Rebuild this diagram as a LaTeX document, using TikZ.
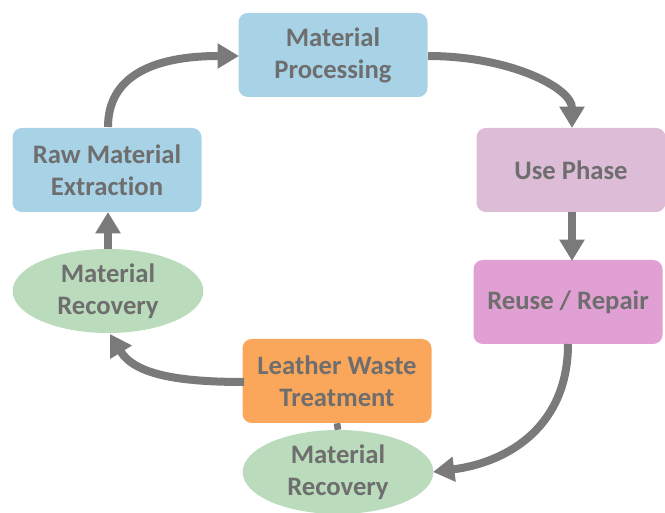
\documentclass[tikz,border=0pt]{standalone}
\usepackage{fontspec}
\setmainfont{Carlito}[Ligatures=CommonOff]
\usetikzlibrary{arrows.meta,shapes.geometric}
\definecolor{boxblue}{HTML}{A8D3E7}
\definecolor{usepink}{HTML}{DCBCD7}
\definecolor{reusepink}{HTML}{E0A0D3}
\definecolor{orangebox}{HTML}{FBA75B}
\definecolor{greenell}{HTML}{BADCBC}
\definecolor{txtgray}{HTML}{6E6E6E}
\definecolor{arrgray}{HTML}{7A7A7A}
\tikzset{
  stagebox/.style={rectangle, rounded corners=7pt, minimum width=141.75pt, minimum height=63pt, align=center, text=txtgray, font=\fontsize{20}{24}\selectfont\bfseries, inner sep=0pt},
  recov/.style={ellipse, fill=greenell, minimum width=143pt, minimum height=63pt, align=center, text=txtgray, font=\fontsize{20}{24}\selectfont\bfseries, inner sep=0pt},
  flow/.style={draw=arrgray, line width=6pt, -{Triangle[width=18pt,length=16pt]}},
  link/.style={draw=arrgray, line width=5pt}
}
\begin{document}
\begin{tikzpicture}[x=0.75pt,y=-0.75pt]
\useasboundingbox (0,0) rectangle (665,513);
\node[stagebox, fill=boxblue] (mp) at (333,55) {Material\\Processing};
\node[stagebox, fill=boxblue] (raw) at (107,170) {Raw Material\\Extraction};
\node[stagebox, fill=usepink] (use) at (571,170) {Use Phase};
\node[stagebox, fill=reusepink] (reuse) at (568,302) {Reuse / Repair};
\node[stagebox, fill=orangebox] (lwt) at (337,381) {Leather Waste\\Treatment};
\node[recov] (mrl) at (108,291) {Material\\Recovery};
\node[recov] (mrb) at (338,472) {Material\\Recovery};
\coordinate (rawtop) at (108,127);
\coordinate (mpleft) at (239,56);
\coordinate (mpright) at (428,56);
\coordinate (usetop) at (572,128);
\coordinate (usebot) at (572,212);
\coordinate (reusetop) at (572,261);
\coordinate (reusebot) at (568,344);
\coordinate (mrbright) at (433,472);
\coordinate (lwtleft) at (244,382);
\coordinate (mrlbot) at (110,334);
\coordinate (mrltop) at (108,249);
\coordinate (rawbot) at (108,212);
\draw[flow] (rawtop) .. controls (108,78) and (150,56) .. (mpleft);
\draw[flow] (mpright) .. controls (510,56) and (572,88) .. (usetop);
\draw[flow] (usebot) -- (reusetop);
\draw[flow] (reusebot) .. controls (568,425) and (510,462) .. (mrbright);
\draw[flow] (lwtleft) .. controls (180,382) and (135,375) .. (mrlbot);
\draw[flow] (mrltop) -- (rawbot);
\draw[link] (lwt.south) -- (mrb.north);
\end{tikzpicture}
\end{document}
